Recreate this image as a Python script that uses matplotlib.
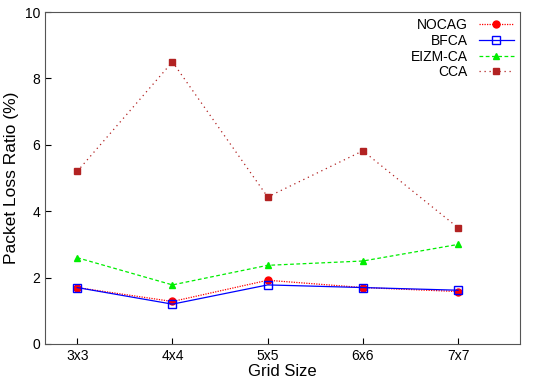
import numpy as np
import matplotlib
matplotlib.use('Agg')
import matplotlib.pyplot as plt

plt.rcParams['font.family'] = ['Liberation Sans', 'DejaVu Sans']

grids = ['3x3', '4x4', '5x5', '6x6', '7x7']
nocag = [1.70, 1.28, 1.92, 1.70, 1.58]
bfca = [1.70, 1.20, 1.78, 1.70, 1.62]
eizm = [2.60, 1.78, 2.37, 2.50, 3.00]
cca = [5.20, 8.50, 4.43, 5.82, 3.50]

x = np.arange(len(grids))

fig = plt.figure(figsize=(5.4, 3.78), dpi=100)
ax = fig.add_axes([0.083, 0.09, 0.88, 0.878])

ax.plot(x, nocag, color='#ff0000', linestyle=(0, (1, 1)), linewidth=0.9,
        marker='o', markersize=5, label='NOCAG')
ax.plot(x, bfca, color='#0000ff', linestyle='-', linewidth=0.9,
        marker='s', markersize=6, markerfacecolor='none', label='BFCA')
ax.plot(x, eizm, color='#00ee00', linestyle=(0, (3, 2)), linewidth=0.9,
        marker='^', markersize=5, label='EIZM-CA')
ax.plot(x, cca, color='#b22222', linestyle=(0, (1, 3)), linewidth=0.9,
        marker='s', markersize=5, label='CCA')

ax.set_xlim(-0.34, 4.65)
ax.set_ylim(0, 10)
ax.set_xticks(x)
ax.set_xticklabels(grids)
ax.set_yticks([0, 2, 4, 6, 8, 10])
ax.tick_params(direction='in', length=4, labelsize=10, top=False, right=False)
ax.set_xlabel('Grid Size', fontsize=12, labelpad=1)
ax.set_ylabel('Packet Loss Ratio (%)', fontsize=12.5, labelpad=4)
for s in ax.spines.values():
    s.set_color('#555555')

ax.legend(loc='upper right', markerfirst=False, frameon=False, fontsize=10,
          handlelength=2.5, borderaxespad=0.05, labelspacing=0.12)

fig.savefig('out.png', dpi=100)
